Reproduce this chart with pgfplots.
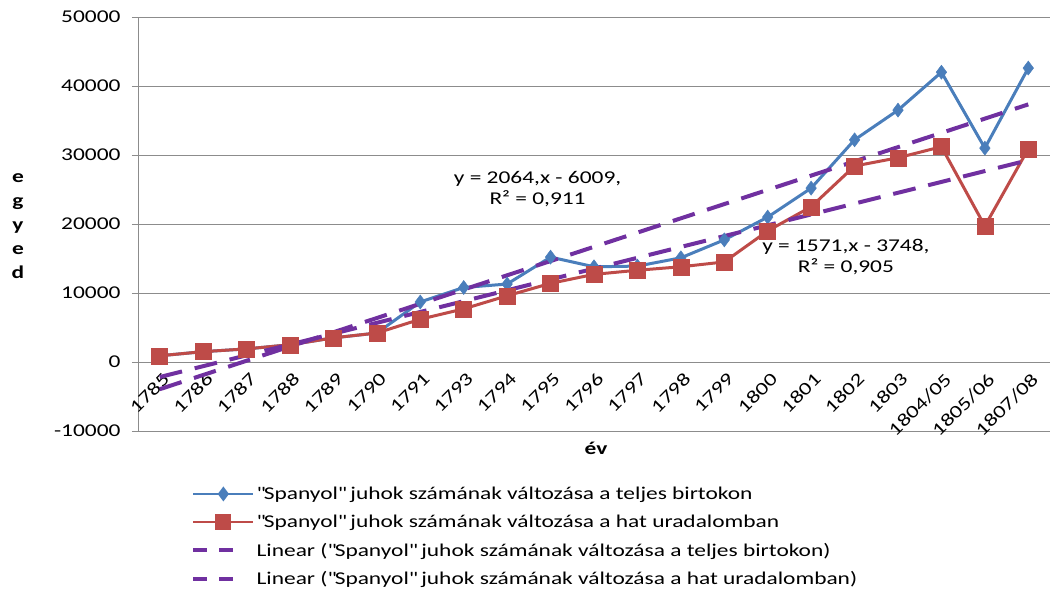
\documentclass[border=0pt]{standalone}
\usepackage{fontspec}
\setmainfont{Carlito}[FakeStretch=1.3]
\usepackage{pgfplots}
\pgfplotsset{compat=1.18}
\definecolor{xblue}{HTML}{4A7EBB}
\definecolor{xred}{HTML}{BE4B48}
\definecolor{xpurple}{HTML}{7030A0}
\definecolor{xgrid}{HTML}{8C8C8C}
\newcommand{\fs}{\fontsize{18}{21}\selectfont}
\pgfplotsset{
  blueleg/.style={legend image code/.code={\draw[xblue,line width=2.6pt] (0pt,0pt)--(60pt,0pt); \path[xblue,mark size=5pt] plot[mark=diamond*,mark options={solid,fill=xblue}] coordinates {(30pt,0pt)};}},
  redleg/.style={legend image code/.code={\draw[xred,line width=2.6pt] (0pt,0pt)--(60pt,0pt); \path[xred,mark size=6.5pt] plot[mark=square*,mark options={solid,fill=xred}] coordinates {(30pt,0pt)};}},
  purpleg/.style={legend image code/.code={\draw[xpurple, line width=4pt, dash pattern=on 14pt off 12pt] (0pt,0pt)--(40pt,0pt);}},
}
\begin{document}
\begin{tikzpicture}
\useasboundingbox (-138pt,-161pt) rectangle (914pt,431pt);
\begin{axis}[
  at={(0pt,0pt)}, anchor=south west,
  scale only axis, width=912pt, height=414pt,
  xmin=-0.5, xmax=20.5, ymin=-10000, ymax=50000,
  axis x line*=middle, axis y line*=left,
  axis line style={xgrid, line width=0.8pt},
  ytick={-10000,0,10000,20000,30000,40000,50000},
  scaled y ticks=false,
  ymajorgrids, grid style={xgrid, line width=0.8pt},
  /pgf/number format/assume math mode=true,
  /pgf/number format/1000 sep={},
  y tick label style={font=\fs, xshift=-8pt},
  ytick style={xgrid, line width=0.8pt},
  tick align=outside, major tick length=6pt,
  xtick={0,...,20},
  xticklabels={1785,1786,1787,1788,1789,1790,1791,1793,1794,1795,1796,1797,1798,1799,1800,1801,1802,1803,1804/05,1805/06,1807/08},
  x tick label style={font=\fs, rotate=45, anchor=north east, inner sep=1pt, yshift=-3pt},
  major x tick style={draw=none},
  extra x ticks={-0.5,0.5,...,20.5},
  extra x tick labels={},
  extra x tick style={tick style={xgrid, line width=0.8pt, draw=xgrid}, major tick length=6pt},
  legend cell align=left,
  legend style={at={(rel axis cs:0.055,-0.125)}, anchor=north west, draw=none, fill=none,
    font=\fs, row sep=10pt, nodes={inner sep=2pt}},
  clip=false,
]
\addplot[xblue, line width=3pt, mark=diamond*, mark size=7pt, mark options={solid, fill=xblue, line width=0.5pt}, blueleg]
coordinates {(0,900) (1,1500) (2,1900) (3,2500) (4,3500) (5,4200) (6,8700) (7,10800) (8,11300) (9,15200) (10,13800) (11,13900) (12,15100) (13,17700) (14,21000) (15,25200) (16,32200) (17,36500) (18,42000) (19,31000) (20,42600)};
\addlegendentry{\textquotedbl Spanyol\textquotedbl{} juhok számának változása a teljes birtokon}
\addplot[xred, line width=3pt, mark=square*, mark size=8pt, mark options={solid, fill=xred, line width=0.5pt}, redleg]
coordinates {(0,900) (1,1500) (2,1900) (3,2500) (4,3500) (5,4200) (6,6200) (7,7700) (8,9600) (9,11400) (10,12700) (11,13300) (12,13800) (13,14500) (14,19000) (15,22500) (16,28400) (17,29600) (18,31200) (19,19700) (20,30900)};
\addlegendentry{\textquotedbl Spanyol\textquotedbl{} juhok számának változása a hat uradalomban}
\addplot[xpurple, line width=4pt, dash pattern=on 23pt off 13pt, purpleg]
coordinates {(0,-3945) (20,37335)};
\addlegendentry{Linear (\textquotedbl Spanyol\textquotedbl{} juhok számának változása a teljes birtokon)}
\addplot[xpurple, line width=4pt, dash pattern=on 23pt off 13pt, purpleg]
coordinates {(0,-2177) (20,29243)};
\addlegendentry{Linear (\textquotedbl Spanyol\textquotedbl{} juhok számának változása a hat uradalomban)}
\node[font=\fs, align=center] at (axis cs:8.7,25000) {y = 2064,x - 6009,\\R² = 0,911};
\node[font=\fs, align=center] at (axis cs:15.8,15200) {y = 1571,x - 3748,\\R² = 0,905};
\end{axis}
\node[font=\bfseries\fontsize{18}{24}\selectfont, align=center] at (-120pt,205pt) {e\\g\\y\\e\\d};
\node[font=\bfseries\fs] at (458pt,-17pt) {év};
\end{tikzpicture}
\end{document}
